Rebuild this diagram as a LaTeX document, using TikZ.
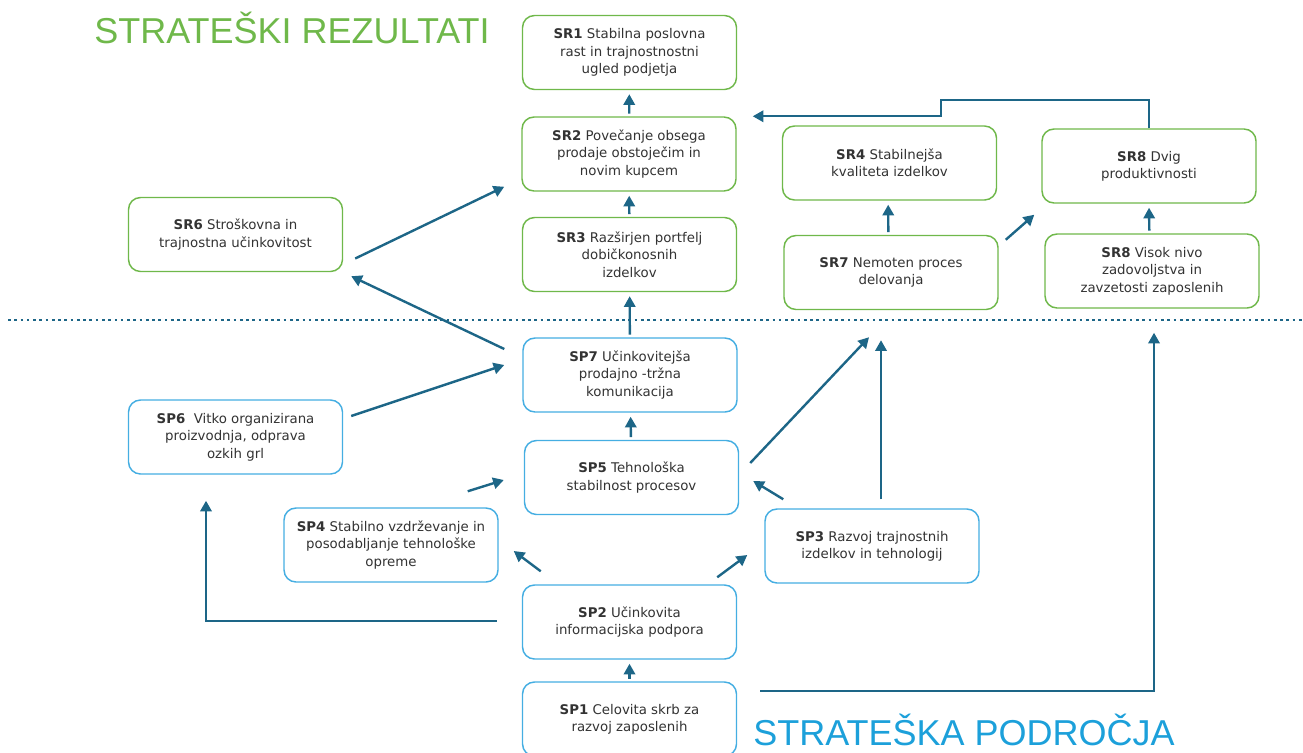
\documentclass[tikz,border=0pt]{standalone}
\usepackage{fontspec}
\setmainfont{DejaVu Sans}
\newfontfamily\titlefont{Liberation Sans}
\usepackage{tikz}
\usetikzlibrary{arrows.meta}

\definecolor{srgreen}{HTML}{6FB84A}
\definecolor{sptitle}{HTML}{1CA0DA}
\definecolor{spblue}{HTML}{45AEE2}
\definecolor{arrowteal}{HTML}{1D6687}
\definecolor{boxtext}{HTML}{333333}

\begin{document}
\begin{tikzpicture}[x=0.75pt,y=-0.75pt,
    box/.style={rectangle,rounded corners=9pt,line width=1.1pt,fill=white,
                minimum width=160.5pt,minimum height=55.5pt,align=center,
                text=boxtext,font=\fontsize{10}{13}\selectfont},
    sr node/.style={box,draw=srgreen},
    sp node/.style={box,draw=spblue},
    title/.style={anchor=base,inner sep=0pt,font=\titlefont\fontsize{27}{30}\selectfont},
    link/.style={line width=1.8pt,draw=arrowteal,
                 -{Triangle[length=8pt,width=8.5pt]}},
    short/.style={link,shorten <=2pt,shorten >=3pt}]

  \clip (0,0) rectangle (1303,753);

  % titles
  \node[title,text=srgreen] (title sr) at (292,43) {STRATEŠKI REZULTATI};
  \node[title,text=sptitle] (title sp) at (964,745) {STRATEŠKA PODROČJA};

  % dotted separator
  \draw[arrowteal,line width=2pt,dash pattern=on 2pt off 2.7pt] (8,320) -- (1303,320);

  % strateski rezultati
  \node[sr node] (sr1) at (629.5,52.5) {\textbf{SR1} Stabilna poslovna\\rast in trajnostnostni\\ugled podjetja};
  \node[sr node] (sr2) at (629,154) {\textbf{SR2} Povečanje obsega\\prodaje obstoječim in\\novim kupcem};
  \node[sr node] (sr3) at (629.5,254.5) {\textbf{SR3} Razširjen portfelj\\dobičkonosnih\\izdelkov};
  \node[sr node] (sr4) at (889.5,163) {\textbf{SR4} Stabilnejša\\kvaliteta izdelkov};
  \node[sr node] (sr8a) at (1149,166) {\textbf{SR8} Dvig\\produktivnosti};
  \node[sr node] (sr7) at (891,272.5) {\textbf{SR7} Nemoten proces\\delovanja};
  \node[sr node] (sr8b) at (1152,271) {\textbf{SR8} Visok nivo\\zadovoljstva in\\zavzetosti zaposlenih};
  \node[sr node] (sr6) at (235.5,234.5) {\textbf{SR6} Stroškovna in\\trajnostna učinkovitost};

  % strateska podrocja
  \node[sp node] (sp7) at (630,375) {\textbf{SP7} Učinkovitejša\\prodajno -tržna\\komunikacija};
  \node[sp node] (sp6) at (235.5,437) {\textbf{SP6}\ \ Vitko organizirana\\proizvodnja, odprava\\ozkih grl};
  \node[sp node] (sp5) at (631.5,477.5) {\textbf{SP5} Tehnološka\\stabilnost procesov};
  \node[sp node] (sp4) at (391,545) {\textbf{SP4} Stabilno vzdrževanje in\\posodabljanje tehnološke\\opreme};
  \node[sp node] (sp3) at (872,546) {\textbf{SP3} Razvoj trajnostnih\\izdelkov in tehnologij};
  \node[sp node] (sp2) at (629.5,622) {\textbf{SP2} Učinkovita\\informacijska podpora};
  \node[sp node] (sp1) at (629.5,719) {\textbf{SP1} Celovita skrb za\\razvoj zaposlenih};

  % vertical links
  \path (sr2) edge[short] (sr1)
        (sr3) edge[short] (sr2)
        (sp7) edge[short] (sr3)
        (sp5) edge[short] (sp7)
        (sp1) edge[short] (sp2)
        ([xshift=-2pt]sr7.north) edge[short] ([xshift=-1pt]sr4.south)
        ([xshift=-2pt]sr8b.north) edge[short] (sr8a.south);

  % diagonal links
  \draw[link] ([shift={(12,24)}]sr6.east) -- ([shift={(-17,-5)}]sr2.south west);
  \draw[link] ([shift={(-18,-26)}]sp7.west) -- ([shift={(8,4)}]sr6.south east);
  \draw[link] ([shift={(8,-21)}]sp6.east) -- ([shift={(-18,-10)}]sp7.west);
  \draw[link] ([shift={(-31,-16)}]sp4.north east) -- ([shift={(-20,2.5)}]sp5.west);
  \draw[link] ([shift={(19,-13)}]sp2.north west) -- ([shift={(15,6)}]sp4.east);
  \draw[link] ([shift={(-20,-7)}]sp2.north east) -- ([shift={(-17,9)}]sp3.west);
  \draw[link] ([shift={(19,-9)}]sp3.north west) -- ([shift={(14,3.5)}]sp5.east);
  \draw[link] ([shift={(11,-14.5)}]sp5.east) -- ([shift={(-22,27)}]sr7.south);
  \draw[link] ([shift={(9,-9)}]sp3.north) -- ([shift={(-10,30)}]sr7.south);
  \draw[link] ([shift={(7,5)}]sr7.north east) -- ([shift={(-7,11)}]sr8a.south west);

  % elbow links
  \draw[link] ([shift={(23,-28)}]sp1.east) -| ([shift={(2,24)}]sr8b.south);
  \draw[link] ([shift={(-25,-1)}]sp2.west) -| ([shift={(-29.5,26)}]sp6.south);
  \draw[link] (sr8a.north) -- ++(0,-28) -- ++(-208,0) -- ++(0,16) -- ([shift={(16,0)}]sr2.north east);
\end{tikzpicture}
\end{document}
